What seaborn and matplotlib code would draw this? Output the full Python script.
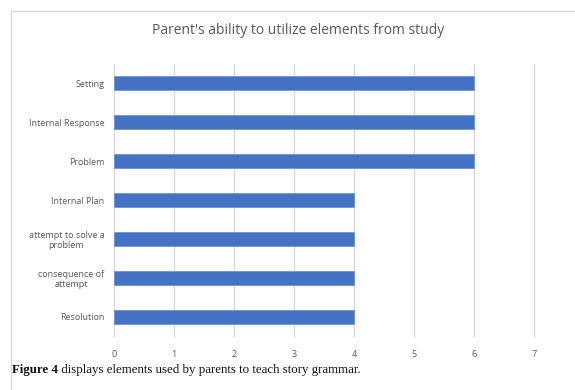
import matplotlib
matplotlib.use("Agg")
import matplotlib.pyplot as plt
import seaborn as sns
import pandas as pd
from matplotlib.lines import Line2D

categories = ["Setting", "Internal Response", "Problem", "Internal Plan",
              "attempt to solve a\nproblem", "consequence of\nattempt", "Resolution"]
values = [6, 6, 6, 4, 4, 4, 4]
xticks = [0, 1, 2, 3, 4, 5, 6, 7]

title = "Parent's ability to utilize elements from study"
caption_bold = "Figure 4"
caption_rest = " displays elements used by parents to teach story grammar."

sns.set_theme(style="white")
plt.rcParams['font.family'] = ['Open Sans', 'DejaVu Sans']

df = pd.DataFrame({"element": categories, "count": values})

fig = plt.figure(figsize=(5.75, 3.9), dpi=100)
ax = fig.add_axes([114/575, 1-336/390, (534-114)/575, (336-64)/390])

sns.barplot(data=df, y="element", x="count", orient="h", color="#4472C4",
            width=0.36, saturation=1, edgecolor="#6f93d6", linewidth=0.6, ax=ax)

ax.set_xlim(0, 7)
ax.set_ylim(6.5, -0.5)
ax.set_xticks(xticks)
ax.set_xticklabels([str(t) for t in xticks])
ax.grid(axis="x", color="#d9d9d9", linewidth=1)
for gl in ax.get_xgridlines():
    gl.set_clip_on(False)
ax.set_axisbelow(True)
for s in ax.spines.values():
    s.set_visible(False)
ax.set_xlabel("")
ax.set_ylabel("")
ax.tick_params(axis="x", length=0, pad=10, labelsize=6.5, labelcolor="#595959")
ax.tick_params(axis="y", length=0, pad=7, labelsize=6.5, labelcolor="#595959")
for lab in ax.get_yticklabels():
    lab.set_multialignment("center")

fig.text(298/575, 1-31/390, title, ha="center", va="center", fontsize=10,
         color="#595959")

# frame
fig.add_artist(Line2D([11/575, 11/575], [0, 1-11/390], color="#d9d9d9", lw=1))
fig.add_artist(Line2D([11/575, 1], [1-11/390, 1-11/390], color="#d9d9d9", lw=1))

t1 = fig.text(12/575, 1-370/390, caption_bold, ha="left", va="center", fontsize=9.3,
              family=["Liberation Serif"], fontweight="bold", color="#111111")
fig.canvas.draw()
bb = t1.get_window_extent()
fig.text(bb.x1/fig.bbox.width, 1-370/390, caption_rest, ha="left", va="center",
         fontsize=9.3, family=["Liberation Serif"], color="#111111")

fig.savefig("out.png", dpi=100)
